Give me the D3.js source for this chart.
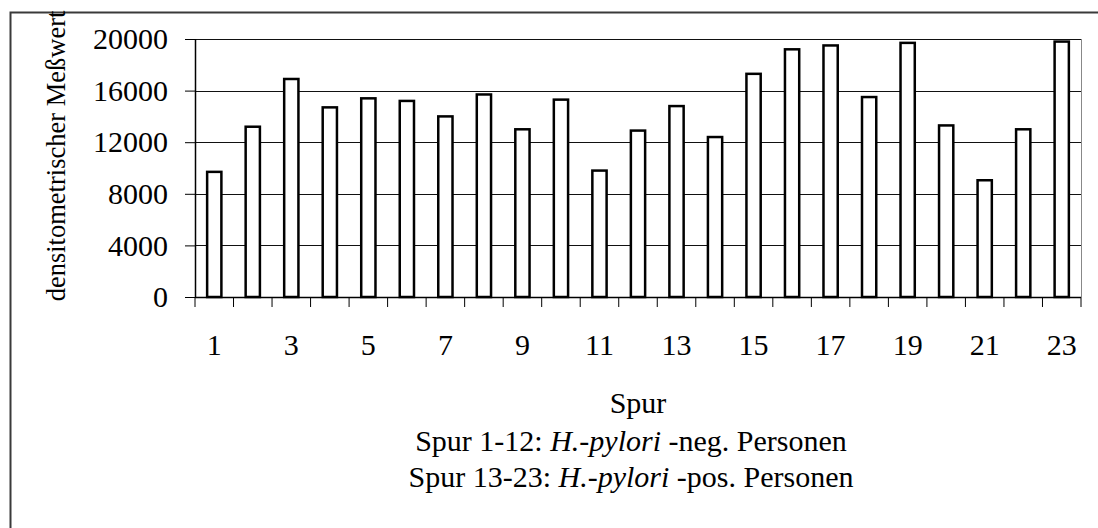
<!DOCTYPE html>
<html>
<head>
<meta charset="utf-8">
<script src="https://cdn.jsdelivr.net/npm/d3@7"></script>
<style>
  body { margin: 0; background: #fff; }
  text { font-family: "Liberation Serif", "Times New Roman", serif; fill: #000; }
</style>
</head>
<body>
<script>

// data
var spuren = d3.range(1, 24);
var messwerte = [9700, 13200, 16900, 14700, 15400, 15200, 14000, 15700, 13000, 15300, 9800, 12900,
                 14800, 12400, 17300, 19200, 19500, 15500, 19700, 13300, 9050, 13000, 19800];
var yTicks = [0, 4000, 8000, 12000, 16000, 20000];
var xLabels = [1, 3, 5, 7, 9, 11, 13, 15, 17, 19, 21, 23];

var W = 1098, H = 528;
var margin = {top: 39, right: 17, bottom: 231, left: 195},
    width = W - margin.left - margin.right,
    height = H - margin.top - margin.bottom;

var svg = d3.select("body").append("svg")
    .attr("width", W)
    .attr("height", H);

// outer chart frame (only left and top visible)
svg.append("rect")
    .attr("x", 10.5).attr("y", 12.5)
    .attr("width", W).attr("height", H)
    .attr("fill", "none")
    .attr("stroke", "#3a3a3a")
    .attr("stroke-width", 2);

var g = svg.append("g")
    .attr("transform", "translate(" + margin.left + "," + margin.top + ")");

var x = d3.scaleBand()
    .domain(spuren)
    .range([0, width]);

var y = d3.scaleLinear()
    .domain([0, 20000])
    .range([height, 0]);

// grid lines
g.selectAll(".grid")
    .data(yTicks.slice(1))
  .enter().append("line")
    .attr("class", "grid")
    .attr("x1", 0).attr("x2", width)
    .attr("y1", function(d) { return Math.round(y(d)) + 0.5; })
    .attr("y2", function(d) { return Math.round(y(d)) + 0.5; })
    .attr("stroke", "#111")
    .attr("stroke-width", 1);

// right edge of plot area
g.append("line")
    .attr("x1", width + 0.5).attr("x2", width + 0.5)
    .attr("y1", 0).attr("y2", height)
    .attr("stroke", "#888");

// bars
var bw = x.bandwidth() * 0.37;
g.selectAll(".bar")
    .data(messwerte)
  .enter().append("rect")
    .attr("class", "bar")
    .attr("x", function(d, i) { return x(spuren[i]) + (x.bandwidth() - bw) / 2; })
    .attr("y", function(d) { return y(d); })
    .attr("width", bw)
    .attr("height", function(d) { return height - y(d); })
    .attr("fill", "#fff")
    .attr("stroke", "#000")
    .attr("stroke-width", 2.5);

// y axis
var yAxis = g.append("g")
    .call(d3.axisLeft(y).tickValues(yTicks).tickSize(10).tickPadding(17).tickFormat(d3.format("d")));
yAxis.select(".domain").attr("stroke", "#000").attr("stroke-width", 1.5).attr("d", "M0.5,0V" + height);
yAxis.selectAll(".tick line").attr("stroke", "#000");
yAxis.selectAll("text").style("font-size", "30px").attr("fill", "#000");

// x axis: ticks at band boundaries
var xAxis = g.append("g")
    .attr("transform", "translate(0," + height + ")");
xAxis.append("line")
    .attr("x1", 0).attr("x2", width)
    .attr("y1", 0.5).attr("y2", 0.5)
    .attr("stroke", "#000").attr("stroke-width", 1.5);
xAxis.selectAll(".xtick")
    .data(spuren.concat([24]))
  .enter().append("line")
    .attr("class", "xtick")
    .attr("x1", function(d) { return d === 24 ? width : x(d); })
    .attr("x2", function(d) { return d === 24 ? width : x(d); })
    .attr("y1", 0).attr("y2", 10)
    .attr("stroke", "#000");
xAxis.selectAll(".xlab")
    .data(xLabels)
  .enter().append("text")
    .attr("class", "xlab")
    .attr("x", function(d) { return x(d) + x.bandwidth() / 2; })
    .attr("y", 58)
    .attr("text-anchor", "middle")
    .style("font-size", "30px")
    .text(function(d) { return d; });

// y label
svg.append("text")
    .attr("transform", "translate(65,156) rotate(-90)")
    .attr("text-anchor", "middle")
    .style("font-size", "26.5px")
    .text("densitometrischer Meßwert");

// x title lines
var cx = margin.left + width / 2;
svg.append("text")
    .attr("x", cx).attr("y", 413)
    .attr("text-anchor", "middle")
    .style("font-size", "30px")
    .text("Spur");

var notes = [
  ["Spur 1-12: ", "H.-pylori", " -neg. Personen"],
  ["Spur 13-23: ", "H.-pylori", " -pos. Personen"]
];
notes.forEach(function(n, i) {
  var t = svg.append("text")
      .attr("x", cx - 7).attr("y", 451 + i * 36)
      .attr("text-anchor", "middle")
      .style("font-size", "30px");
  t.append("tspan").text(n[0]);
  t.append("tspan").style("font-style", "italic").text(n[1]);
  t.append("tspan").text(n[2]);
});

</script>
</body>
</html>
